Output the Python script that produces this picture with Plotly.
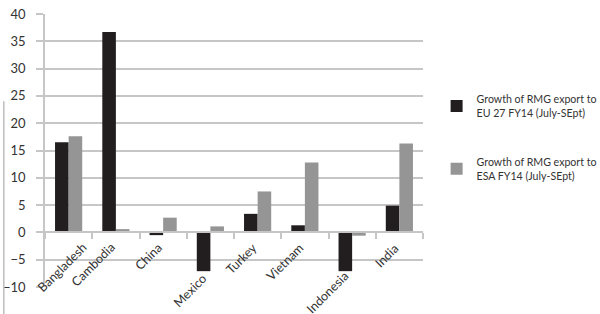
import plotly.graph_objects as go

categories = ["Bangladesh", "Cambodia", "China", "Mexico", "Turkey", "Vietnam", "Indonesia", "India"]
eu27_growth = [16.5, 36.7, -0.5, -7.1, 3.4, 1.3, -7.1, 4.9]
esa_growth = [17.6, 0.6, 2.7, 1.1, 7.5, 12.8, -0.6, 16.3]
series_names = ["Growth of RMG export to<br>EU 27 FY14 (July-SEpt)",
                "Growth of RMG export to<br>ESA FY14 (July-SEpt)"]
y_ticks = [-10, -5, 0, 5, 10, 15, 20, 25, 30, 35, 40]

FONT = "Lato"
TXT = "#333333"
GRID = "#c6c6c6"

fig = go.Figure()
fig.add_trace(go.Bar(x=categories, y=eu27_growth, name=series_names[0],
                     marker=dict(color="#221e1f", line=dict(width=0)), legendgroup="a"))
fig.add_trace(go.Bar(x=categories, y=esa_growth, name=series_names[1],
                     marker=dict(color="#959595", line=dict(width=0)), legendgroup="b"))

y_min, y_max = y_ticks[0], y_ticks[-1]
zero_pos = (0 - y_min) / (y_max - y_min)

fig.update_layout(
    width=600, height=314,
    margin=dict(l=45, r=177, t=14, b=27, autoexpand=False),
    paper_bgcolor="white", plot_bgcolor="white",
    barmode="group", bargap=0.425, bargroupgap=0,
    font=dict(family=FONT, color=TXT, size=12),
    showlegend=True,
    legend=dict(x=1.036, y=0.737, xanchor="left", yanchor="top",
                font=dict(family=FONT, size=10.6, color=TXT),
                tracegroupgap=32, bgcolor="rgba(0,0,0,0)"),
    xaxis=dict(range=[-0.5, len(categories) - 0.5], autorange=False,
               anchor="free", position=zero_pos, showline=True, linecolor=GRID, linewidth=1.5,
               ticks="outside", tickson="boundaries", ticklen=6, tickcolor=GRID, tickwidth=1.5,
               showticklabels=False, showgrid=False, zeroline=False, fixedrange=True,
               automargin=False),
    yaxis=dict(range=[y_min, y_max], autorange=False, tickvals=y_ticks, showgrid=True,
               gridcolor=GRID, gridwidth=1.5,
               showline=True, linecolor=GRID, linewidth=1.5, ticks="outside", ticklen=7,
               tickcolor=GRID, tickwidth=1.5, zeroline=False, ticklabelstandoff=8,
               automargin=False,
               tickfont=dict(family=FONT, size=13, color=TXT)),
)

label_shift = {"Bangladesh": (24, -5), "Mexico": (2, -36), "Indonesia": (2, -33)}
for cat in categories:
    dx, dy = label_shift.get(cat, (5, -5))
    fig.add_annotation(x=cat, y=0, xref="x", yref="y", text=cat, showarrow=False,
                       textangle=-45, xanchor="right", yanchor="top",
                       xshift=dx, yshift=dy,
                       font=dict(family=FONT, size=12.5, color=TXT))

fig.add_shape(type="line", xref="paper", yref="paper", x0=-0.109, x1=-0.109, y0=0.68, y1=-0.12,
              line=dict(color="#bdbdbd", width=1.5))

fig.write_html("out.html")
